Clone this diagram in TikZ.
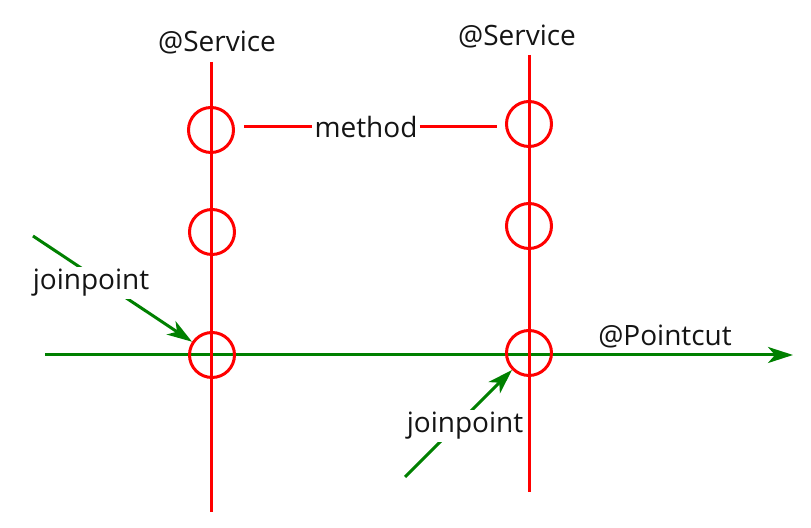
\documentclass[tikz,border=0pt]{standalone}
\usepackage{fontspec}
\setmainfont{Open Sans}
\usetikzlibrary{arrows.meta}
\definecolor{cutred}{HTML}{FF0000}
\definecolor{cutgreen}{HTML}{008000}
\definecolor{labelgray}{HTML}{141414}

\begin{document}
\begin{tikzpicture}[x=0.5pt, y=-0.5pt, font=\fontsize{14}{16}\selectfont,
  every node/.style={align=center, text=labelgray},
  redline/.style={cutred, line width=1.5pt},
  ring/.style={circle, draw=cutred, line width=1.5pt, minimum size=22.5pt, inner sep=0pt},
  greenarrow/.style={cutgreen, line width=1.5pt, -{Stealth[length=12.5pt, width=8pt, inset=3.5pt]}},
  tag/.style={fill=white, inner sep=1pt}]
  \useasboundingbox (0,0) rectangle (811,528);

  % --- Pointcut axis (under everything) ---
  \coordinate (P0) at (45,355);
  \coordinate (P1) at (793,355);
  \draw[greenarrow] (P0) -- (P1);
  \node (pointcut) at (665,337) {@Pointcut};

  % --- Services (left and right lifelines) ---
  \node (svcL) at (217,43) {@Service};
  \node (svcR) at (517,37) {@Service};
  \coordinate (LT) at (211,62);
  \coordinate (LB) at (211,512);
  \coordinate (RT) at (529,55);
  \coordinate (RB) at (529,492);
  \draw[redline] (LT) -- (LB);
  \draw[redline] (RT) -- (RB);

  % --- methods on each service ---
  \node[ring] (L1) at (211,130) {};
  \node[ring] (L2) at (212,232) {};
  \node[ring] (L3) at (212,355) {};
  \node[ring] (R1) at (529,124) {};
  \node[ring] (R2) at (529,226) {};
  \node[ring] (R3) at (529,353) {};

  \node[inner sep=1pt] (method) at (366,127) {method};
  \draw[redline, shorten >=4.5pt] (method.west) -- (method.west -| L1.east);
  \draw[redline, shorten >=4pt] (method.east) -- (method.east -| R1.west);

  % --- joinpoints: arrows hit the rings on the pointcut ---
  \coordinate (JL) at (33,236);
  \coordinate (JR) at (405,477);
  \draw[greenarrow] (JL) -- (L3);
  \draw[greenarrow] (JR) -- (R3);
  \node[tag] (jpL) at (91,283) {joinpoint};
  \node[tag] (jpR) at (465,426) {joinpoint};
\end{tikzpicture}
\end{document}
